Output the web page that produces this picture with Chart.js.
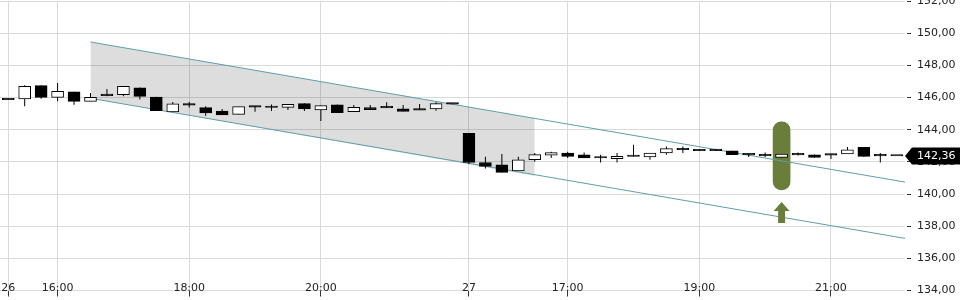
<!DOCTYPE html>
<html>
<head>
<meta charset="utf-8">
<script src="https://cdn.jsdelivr.net/npm/chart.js@4.4.1/dist/chart.umd.min.js"></script>
<style>
  html, body { margin: 0; padding: 0; background: #fff; }
</style>
</head>
<body>
<canvas id="myChart" width="960" height="300"></canvas>
<script>
// 15 minute candles, index 0 = first candle on the 26th
const opens  = [145.87, 145.91, 146.74, 146.01, 146.35, 145.76, 146.18, 146.18, 146.60, 146.03,
                145.10, 145.55, 145.37, 145.16, 144.95, 145.43, 145.38, 145.39, 145.62, 145.23,
                145.54, 145.12, 145.37, 145.36, 145.29, 145.22, 145.29, 145.61, 143.77, 141.96,
                141.82, 141.43, 142.14, 142.42, 142.55, 142.44, 142.24, 142.19, 142.33, 142.30,
                142.55, 142.75, 142.76, 142.76, 142.69, 142.44, 142.44, 142.27, 142.44, 142.44,
                142.44, 142.49, 142.90, 142.38, 142.37];
const highs  = [145.87, 146.76, 146.76, 146.90, 146.36, 146.28, 146.53, 146.72, 146.62, 146.05,
                145.72, 145.72, 145.45, 145.29, 145.43, 145.45, 145.57, 145.57, 145.64, 145.50,
                145.56, 145.54, 145.54, 145.70, 145.54, 145.60, 145.70, 145.61, 143.77, 142.32,
                142.49, 142.32, 142.55, 142.63, 142.63, 142.58, 142.44, 142.55, 143.06, 142.55,
                142.96, 142.96, 142.78, 142.78, 142.69, 142.55, 142.58, 142.48, 142.58, 142.46,
                142.45, 142.92, 142.92, 142.55, 142.37];
const lows   = [145.86, 145.45, 145.93, 145.76, 145.55, 145.76, 146.07, 146.08, 145.87, 145.18,
                145.10, 145.38, 144.87, 144.91, 144.95, 145.12, 145.16, 145.22, 145.16, 144.54,
                145.04, 145.12, 145.25, 145.34, 145.14, 145.22, 145.18, 145.59, 141.86, 141.59,
                141.34, 141.43, 142.00, 142.24, 142.24, 142.24, 141.96, 141.96, 142.33, 142.13,
                142.44, 142.55, 142.69, 142.68, 142.44, 142.30, 142.30, 142.27, 142.40, 142.27,
                142.17, 142.49, 142.30, 141.96, 142.36];
const closes = [145.86, 146.69, 146.01, 146.38, 145.76, 146.01, 146.12, 146.69, 146.07, 145.18,
                145.60, 145.53, 145.04, 144.91, 145.43, 145.40, 145.39, 145.57, 145.29, 145.49,
                145.06, 145.39, 145.25, 145.35, 145.14, 145.23, 145.62, 145.59, 141.96, 141.71,
                141.34, 142.13, 142.45, 142.58, 142.34, 142.24, 142.24, 142.34, 142.34, 142.55,
                142.82, 142.76, 142.69, 142.70, 142.44, 142.43, 142.37, 142.48, 142.43, 142.27,
                142.42, 142.75, 142.34, 142.37, 142.36];

const tickIndex  = [0, 3, 11, 19, 28, 34, 42, 50];
const tickLabels = ['26', '16:00', '18:00', '20:00', '27', '17:00', '19:00', '21:00'];
const lastPrice = 142.36;

// trend channel: [candle index, price] at both ends
const channelX     = [5, 54.5];
const channelUpper = [149.45, 140.74];
const channelLower = [145.95, 137.24];
// shaded part of the channel
const shadeX     = [5, 32];
const shadeUpper = [149.45, 144.71];
const shadeLower = [145.95, 141.12];

// green marker + arrow
const markerIndex = 47;
const markerRange = [140.26, 144.48];
const arrowRange  = [138.19, 139.5];

const gridColor = '#dadada';
const green = '#6b7d3a';
const teal = '#5f9ea6';
const font = { family: '"DejaVu Sans", sans-serif', size: 11 };
const fmt = (v) => Number(v).toFixed(2).replace('.', ',');

const toXY = (xs, ys) => xs.map((x, i) => ({ x: x, y: ys[i] }));

const overlay = {
  id: 'overlay',
  afterDatasetsDraw(chart) {
    const { ctx, scales: { x, y } } = chart;
    const ax = x.getPixelForValue(markerIndex);
    const tip = y.getPixelForValue(arrowRange[1]);
    const bottom = y.getPixelForValue(arrowRange[0]);
    ctx.save();
    ctx.fillStyle = green;
    ctx.beginPath();
    ctx.moveTo(ax, tip);
    ctx.lineTo(ax + 8, tip + 9);
    ctx.lineTo(ax + 3.5, tip + 9);
    ctx.lineTo(ax + 3.5, bottom);
    ctx.lineTo(ax - 3.5, bottom);
    ctx.lineTo(ax - 3.5, tip + 9);
    ctx.lineTo(ax - 8, tip + 9);
    ctx.closePath();
    ctx.fill();
    ctx.restore();
  },
  afterDraw(chart) {
    const { ctx, chartArea, scales: { x, y } } = chart;
    ctx.save();
    // time labels sit just above the bottom line
    ctx.font = '11px "DejaVu Sans"';
    ctx.fillStyle = '#222';
    ctx.textAlign = 'center';
    ctx.textBaseline = 'alphabetic';
    tickIndex.forEach((v, i) => {
      ctx.fillText(tickLabels[i], x.getPixelForValue(v), chartArea.bottom);
    });

    // last price tag
    const py = y.getPixelForValue(lastPrice);
    const left = chartArea.right;
    ctx.fillStyle = '#000';
    ctx.beginPath();
    ctx.moveTo(left, py);
    ctx.lineTo(left + 7, py - 8.5);
    ctx.lineTo(chart.width, py - 8.5);
    ctx.lineTo(chart.width, py + 8.5);
    ctx.lineTo(left + 7, py + 8.5);
    ctx.closePath();
    ctx.fill();
    ctx.fillStyle = '#fff';
    ctx.textAlign = 'left';
    ctx.textBaseline = 'middle';
    ctx.fillText(fmt(lastPrice), left + 12, py + 0.5);
    ctx.restore();
  }
};

const ctx = document.getElementById('myChart').getContext('2d');

new Chart(ctx, {
  type: 'bar',
  data: {
    datasets: [
      {
        label: 'body',
        data: toXY(opens.map((o, i) => i), opens.map((o, i) => [o, closes[i]])),
        backgroundColor: (c) => (closes[c.dataIndex] - opens[c.dataIndex] > 0.03 ? '#fff' : '#000'),
        borderColor: '#000',
        borderWidth: 1,
        borderSkipped: false,
        barThickness: 12,
        minBarLength: 1.5,
        grouped: false,
      },
      {
        label: 'wick',
        data: toXY(highs.map((h, i) => i), highs.map((h, i) => [lows[i], h])),
        backgroundColor: '#000',
        borderWidth: 0,
        barThickness: 1,
        inflateAmount: 0,
        grouped: false,
      },
      {
        type: 'line',
        label: 'upper',
        data: toXY(channelX, channelUpper),
        borderColor: teal,
        borderWidth: 1,
        pointRadius: 0,
      },
      {
        type: 'line',
        label: 'lower',
        data: toXY(channelX, channelLower),
        borderColor: teal,
        borderWidth: 1,
        pointRadius: 0,
      },
      {
        label: 'marker',
        data: [{ x: markerIndex, y: markerRange }],
        backgroundColor: green,
        borderWidth: 0,
        borderSkipped: false,
        borderRadius: 8.5,
        barThickness: 17,
        grouped: false,
      },
      {
        type: 'line',
        label: 'shadeTop',
        data: toXY(shadeX, shadeUpper),
        borderWidth: 0,
        pointRadius: 0,
      },
      {
        type: 'line',
        label: 'shadeBottom',
        data: toXY(shadeX, shadeLower),
        borderWidth: 0,
        pointRadius: 0,
        fill: '-1',
        backgroundColor: 'rgba(0,0,0,0.135)',
      },
    ],
  },
  options: {
    responsive: false,
    animation: false,
    layout: { padding: { top: 1 } },
    plugins: { legend: { display: false }, tooltip: { enabled: false } },
    scales: {
      x: {
        type: 'linear',
        min: -0.5,
        max: 54.5,
        bounds: 'data',
        offset: false,
        grid: { color: gridColor, offset: false, tickLength: 6, tickColor: '#333' },
        border: { display: false },
        ticks: { display: false },
        afterBuildTicks: (s) => { s.ticks = tickIndex.map((v) => ({ value: v })); },
        afterFit: (s) => { s.height = 9.5; s.paddingLeft = 0; s.paddingRight = 0; },
      },
      y: {
        position: 'right',
        min: 134,
        max: 152,
        grid: { color: gridColor, tickLength: 6, tickColor: '#333', tickBorderDash: [0, 2, 4, 100] },
        border: { display: false },
        ticks: { stepSize: 2, padding: 6, font: font, color: '#222', callback: fmt },
        afterFit: (s) => { s.width = 55; s.paddingTop = 0; s.paddingBottom = 0; },
      },
    },
  },
  plugins: [overlay],
});
</script>
</body>
</html>
